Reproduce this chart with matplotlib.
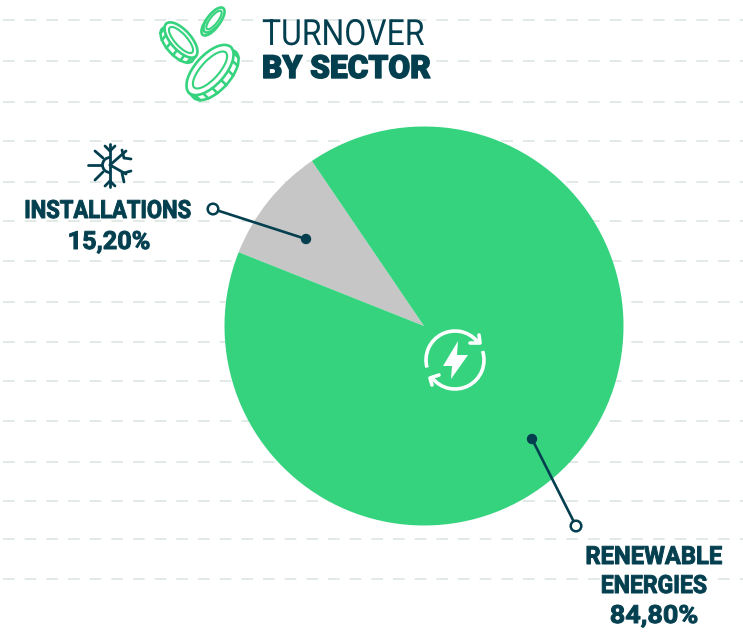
import matplotlib
matplotlib.use("Agg")
import matplotlib.pyplot as plt
import numpy as np
from matplotlib.patches import Ellipse, Circle, Polygon, Arc
from matplotlib.patheffects import AbstractPathEffect
from matplotlib.transforms import Affine2D

W, H = 743, 632
NAVY = "#033f4f"
GREEN = "#36d37f"
GREY = "#c6c6c6"
GRID = "#dde6e4"
FONT = "Roboto"

# Data. The drawn wedge is narrower than its printed label says.
categories = ["INSTALLATIONS", "RENEWABLE ENERGIES"]
printed_labels = ["15,20%", "84,80%"]
drawn_shares = [9.47, 90.53]
wedge_colors = [GREY, GREEN]
grid_rows = [20, 61, 102, 141, 182, 221, 261, 302, 342, 381, 421, 462, 501, 539, 579]

fig = plt.figure(figsize=(W / 100, H / 100), dpi=100)
ax = fig.add_axes([0, 0, 1, 1])


def Y(p):
    return H - p


class Condense(AbstractPathEffect):
    """Squeeze a text horizontally about a fixed pixel column and thicken it slightly."""

    def __init__(self, x, sx, stroke=0.0):
        super().__init__()
        self.x, self.sx, self.stroke = x, sx, stroke

    def draw_path(self, renderer, gc, tpath, affine, rgbFace=None):
        squeeze = Affine2D().translate(-self.x, 0).scale(self.sx, 1).translate(self.x, 0)
        gc0 = renderer.new_gc()
        gc0.copy_properties(gc)
        gc0.set_linewidth(self.stroke)
        gc0.set_foreground(NAVY)
        renderer.draw_path(gc0, tpath, affine + squeeze, rgbFace)
        gc0.restore()


def label(x, base, s, size, sx, weight="bold", ha="center", stroke=0.7):
    t = ax.text(x, Y(base), s, family=FONT, color=NAVY, fontsize=size, fontweight=weight,
                ha=ha, va="baseline", zorder=6)
    t.set_path_effects([Condense(x, sx, stroke)])


for r in grid_rows:
    ax.plot([3, W], [Y(r), Y(r)], color=GRID, lw=1.2, dashes=(7, 6), zorder=1)

ax.pie(drawn_shares, colors=wedge_colors, startangle=124.2, center=(424, Y(326)), radius=199.5,
       frame=True, wedgeprops=dict(linewidth=0, zorder=2))
ax.set_xlim(0, W)
ax.set_ylim(0, H)
ax.set_aspect("equal")
ax.axis("off")


# ---- leader lines
def leader(dot, ring):
    ax.plot([dot[0], ring[0]], [Y(dot[1]), Y(ring[1])], color=NAVY, lw=1.9, zorder=4)
    ax.add_patch(Circle((dot[0], Y(dot[1])), 5.2, fc=NAVY, ec="none", zorder=5))
    ax.add_patch(Circle((ring[0], Y(ring[1])), 5.3, fc="white", ec=NAVY, lw=1.8, zorder=5))


leader((306, 239), (213, 209))
leader((532, 439), (576, 526))

# ---- texts
label(108, 218, categories[0], 18, 0.88)
label(109, 249, printed_labels[0], 18, 1.01)
label(654, 564, "RENEWABLE", 18, 0.95)
label(654, 593, "ENERGIES", 18, 0.92)
label(654, 623, printed_labels[1], 18, 1.08)
label(262, 45, "TURNOVER", 26, 0.885, weight="normal", ha="left", stroke=0.0)
label(262, 78, "BY SECTOR", 23, 0.99, weight=900, ha="left", stroke=1.0)


# ---- coins icon
def coin(cx, cy, a, b, ang, dx, dy, n, lw=1.9):
    t = np.radians(ang)
    cyp = Y(cy)
    ax.add_patch(Ellipse((cx + dx, cyp + dy), 2 * a, 2 * b, angle=ang, fc="white", ec=GREEN, lw=lw, zorder=6))
    for s in np.linspace(0, 2 * np.pi, n, endpoint=False):
        nx0, ny0 = np.cos(s) / a, np.sin(s) / b
        nx = nx0 * np.cos(t) - ny0 * np.sin(t)
        ny = nx0 * np.sin(t) + ny0 * np.cos(t)
        if nx * dx + ny * dy <= 0:
            continue
        x, y = a * np.cos(s), b * np.sin(s)
        px = x * np.cos(t) - y * np.sin(t)
        py = x * np.sin(t) + y * np.cos(t)
        ax.plot([cx + px, cx + px + dx], [cyp + py, cyp + py + dy], color=GREEN, lw=lw, zorder=6.5)
    ax.add_patch(Ellipse((cx, cyp), 2 * a, 2 * b, angle=ang, fc="white", ec=GREEN, lw=lw, zorder=7))
    ax.add_patch(Ellipse((cx, cyp), 2 * a * .76, 2 * b * .6, angle=ang, fc="none", ec=GREEN,
                         lw=lw * .8, zorder=8))


coin(210, 70, 31, 15, 48, 5, -5, 16)
coin(181, 40, 22, 10, -48, -4, -5, 14)
coin(214, 20, 15, 6.5, 52, -2, -3, 0)

# ---- snowflake icon
sn = [[(110, 144), (110, 187)], [(88, 165), (101, 165)], [(95, 151), (103, 158)], [(95, 180), (103, 172)],
      [(110, 165), (126, 151)], [(110, 165), (126, 174)], [(122, 150), (124, 158)], [(124, 158), (131, 159)],
      [(124, 173), (131, 171)], [(122, 173), (124, 182)], [(105, 146), (110, 151)], [(115, 146), (110, 151)],
      [(105, 186), (110, 181)], [(115, 186), (110, 181)]]
for s in sn:
    ax.plot([s[0][0], s[1][0]], [Y(s[0][1]), Y(s[1][1])], color=NAVY, lw=2, solid_capstyle="round", zorder=6)
ax.add_patch(Arc((110, Y(165)), 15, 15, theta1=90, theta2=270, color=NAVY, lw=2, zorder=6))

# ---- energy icon on the wedge
c = (455, Y(360))
ax.add_patch(Arc(c, 58, 58, theta1=40, theta2=195, color="white", lw=2.6, zorder=6))
ax.add_patch(Arc(c, 58, 58, theta1=218, theta2=378, color="white", lw=2.6, zorder=6))
for line in ([(470, 343), (480, 343), (479, 335)], [(439, 375), (430, 378), (432, 385)]):
    ax.plot([p[0] for p in line], [Y(p[1]) for p in line], color="white", lw=2.6, zorder=6,
            solid_capstyle="round", solid_joinstyle="round")
bolt = [(458, 341), (443, 366), (452, 366), (451, 379), (468, 355), (457, 355)]
ax.add_patch(Polygon([(x, Y(y)) for x, y in bolt], fc="white", ec="none", zorder=6))

fig.savefig("out.png", dpi=100)
